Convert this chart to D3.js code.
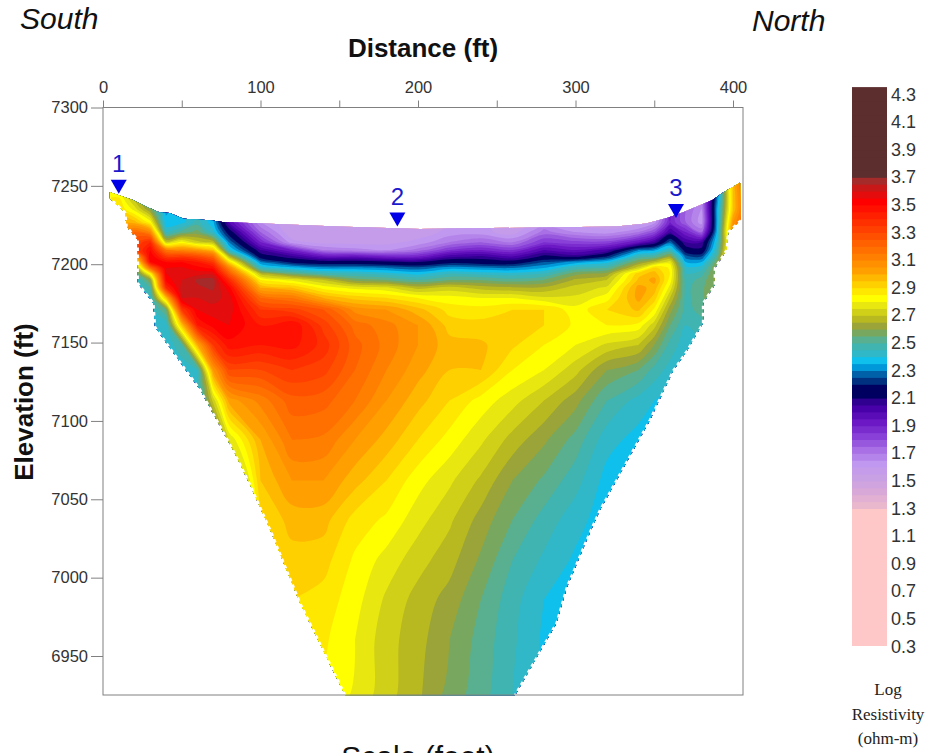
<!DOCTYPE html>
<html>
<head>
<meta charset="utf-8">
<title>Log resistivity section</title>
<script src="https://d3js.org/d3.v7.min.js"></script>
<style>
  html, body { margin: 0; padding: 0; background: #fff; overflow: hidden; }
  svg { display: block; font-family: "Liberation Sans", Arial, sans-serif; }
  .axis path, .axis line { stroke: #808080; stroke-width: 1; }
  .axis text { fill: #333; font-size: 16.5px; font-family: "Liberation Sans", Arial, sans-serif; }
</style>
</head>
<body>
<svg id="chart" width="925" height="753"></svg>
<script>
// grid nodes of the section
var distances = [0, 10, 20, 30, 40, 50, 60, 70, 80, 100, 120, 140, 160, 180, 200, 220, 240, 260, 280, 300, 320, 340, 350, 360, 370, 380, 390, 400, 410];
var elevations = [7254, 7244, 7235, 7227, 7220.5, 7214, 7209, 7205, 7201.4, 7197.6, 7194, 7190, 7185, 7178.5, 7171, 7161, 7148.5, 7132.5, 7113, 7088, 7062, 7037, 7011, 6986, 6960, 6925];

// one profile per distance, top to bottom, log10 resistivity
var logRes = [
  [2.82,2.82,2.9,2.95,3,3,3,3,2.9,2.7,2.5,2.4,2.4,2.4,2.4,2.4,2.4,2.4,2.4,2.4,2.4,2.4,2.4,2.4,2.4,2.4],
  [2.82,2.84,2.9,3,3.1,3.1,3.1,3,2.8,2.6,2.45,2.4,2.4,2.4,2.4,2.4,2.4,2.4,2.4,2.4,2.4,2.4,2.4,2.4,2.4,2.4],
  [2.62,2.65,2.78,2.97,3.2,3.3,3.3,2.95,2.72,2.55,2.47,2.4,2.4,2.4,2.4,2.4,2.4,2.4,2.4,2.4,2.4,2.4,2.4,2.4,2.4,2.4],
  [2.47,2.47,2.6,2.82,3.1,3.4,3.5,3.55,3.5,3.2,2.85,2.6,2.5,2.44,2.42,2.4,2.4,2.4,2.4,2.4,2.4,2.4,2.4,2.4,2.4,2.4],
  [2.36,2.34,2.34,2.36,2.44,2.72,3.15,3.35,3.5,3.55,3.55,3.52,3.4,2.95,2.55,2.42,2.4,2.4,2.4,2.4,2.4,2.4,2.4,2.4,2.4,2.4],
  [2.38,2.38,2.38,2.38,2.52,2.82,3.1,3.35,3.5,3.56,3.58,3.6,3.62,3.6,3.35,2.95,2.5,2.4,2.4,2.4,2.4,2.4,2.4,2.4,2.4,2.4],
  [2.47,2.47,2.47,2.47,2.57,2.72,3.05,3.3,3.45,3.52,3.58,3.66,3.64,3.6,3.55,3.45,3,2.45,2.4,2.4,2.4,2.4,2.4,2.4,2.4,2.4],
  [2.36,2.36,2.36,2.36,2.42,2.68,2.95,3.2,3.35,3.48,3.58,3.67,3.66,3.62,3.58,3.52,3.35,3.05,2.72,2.42,2.4,2.4,2.4,2.4,2.4,2.4],
  [2.05,2.05,2,2,2.15,2.3,2.42,2.68,2.9,3.12,3.25,3.4,3.52,3.58,3.58,3.55,3.48,3.3,3.02,2.75,2.5,2.4,2.4,2.4,2.4,2.4],
  [1.6,1.6,1.6,1.65,1.75,1.9,2.05,2.15,2.3,2.45,2.68,2.85,3,3.2,3.35,3.45,3.45,3.3,3.12,3,2.95,2.9,2.85,2.8,2.75,2.7],
  [1.55,1.55,1.55,1.55,1.55,1.62,1.9,2.06,2.18,2.37,2.55,2.78,2.95,3.15,3.32,3.5,3.47,3.35,3.23,3.15,3.05,2.97,2.93,2.9,2.88,2.86],
  [1.55,1.55,1.55,1.55,1.55,1.58,1.7,1.95,2.14,2.32,2.47,2.7,2.83,3,3.25,3.33,3.38,3.32,3.22,3.14,3.05,2.97,2.92,2.88,2.86,2.85],
  [1.55,1.55,1.55,1.55,1.55,1.58,1.67,1.95,2.14,2.32,2.45,2.58,2.78,2.93,3.08,3.18,3.22,3.2,3.15,3.05,2.97,2.88,2.84,2.82,2.8,2.79],
  [1.55,1.55,1.55,1.55,1.55,1.58,1.65,1.9,2.12,2.3,2.42,2.55,2.76,2.9,3.05,3.12,3.13,3.1,3.05,2.98,2.9,2.84,2.78,2.74,2.72,2.72],
  [1.55,1.55,1.55,1.55,1.56,1.62,1.72,1.9,2.1,2.27,2.38,2.5,2.68,2.85,2.97,3.05,3.05,3.02,2.97,2.9,2.82,2.77,2.72,2.68,2.67,2.66],
  [1.65,1.65,1.65,1.6,1.62,1.7,1.85,2.03,2.17,2.33,2.45,2.55,2.72,2.82,2.88,2.93,2.97,2.95,2.9,2.83,2.76,2.71,2.67,2.63,2.6,2.58],
  [1.68,1.68,1.68,1.62,1.62,1.75,1.9,2.06,2.15,2.31,2.43,2.55,2.68,2.8,2.87,2.92,2.96,2.95,2.83,2.76,2.69,2.63,2.59,2.55,2.53,2.52],
  [1.55,1.55,1.55,1.55,1.57,1.7,1.85,2,2.14,2.3,2.42,2.52,2.66,2.8,2.9,2.93,2.91,2.85,2.77,2.68,2.6,2.55,2.5,2.47,2.46,2.45],
  [1.7,1.7,1.7,1.65,1.72,1.85,2,2.12,2.25,2.35,2.45,2.55,2.66,2.76,2.9,2.9,2.85,2.8,2.7,2.61,2.54,2.48,2.44,2.4,2.39,2.38],
  [1.6,1.6,1.6,1.58,1.65,1.82,1.95,2.08,2.32,2.47,2.58,2.66,2.72,2.76,2.82,2.84,2.8,2.72,2.62,2.53,2.47,2.42,2.39,2.37,2.37,2.37],
  [1.6,1.6,1.6,1.55,1.62,1.82,2.02,2.2,2.38,2.5,2.62,2.7,2.76,2.83,2.9,2.85,2.74,2.6,2.5,2.42,2.38,2.37,2.37,2.37,2.37,2.37],
  [1.55,1.55,1.55,1.55,1.7,1.95,2.3,2.47,2.6,2.73,2.93,2.96,3.02,3.02,2.96,2.83,2.7,2.55,2.43,2.38,2.37,2.37,2.37,2.37,2.37,2.37],
  [1.6,1.6,1.6,1.62,1.8,2.05,2.33,2.5,2.68,2.92,2.97,3.02,2.98,2.93,2.84,2.72,2.6,2.48,2.4,2.38,2.37,2.37,2.37,2.37,2.37,2.37],
  [1.9,1.9,1.9,1.9,2.05,2.28,2.45,2.62,2.78,2.84,2.85,2.83,2.78,2.7,2.62,2.55,2.48,2.43,2.38,2.37,2.37,2.37,2.37,2.37,2.37,2.37],
  [1.75,1.75,1.75,1.75,1.9,2.05,2.15,2.27,2.35,2.42,2.45,2.47,2.48,2.48,2.48,2.45,2.42,2.4,2.38,2.37,2.37,2.37,2.37,2.37,2.37,2.37],
  [1.7,1.7,1.65,1.62,1.75,2.05,2.12,2.25,2.35,2.43,2.48,2.52,2.54,2.54,2.52,2.48,2.45,2.45,2.45,2.45,2.45,2.45,2.45,2.45,2.45,2.45],
  [2.35,2.3,2.35,2.35,2.37,2.42,2.47,2.52,2.58,2.62,2.62,2.62,2.6,2.6,2.6,2.6,2.6,2.6,2.6,2.6,2.6,2.6,2.6,2.6,2.6,2.6],
  [2.95,2.95,2.95,3.05,3.1,3,3,3,3,3,3,3,3,3,3,3,3,3,3,3,3,3,3,3,3,3],
  [3.3,3.3,3.3,3.3,3.3,3.3,3.3,3.3,3.3,3.3,3.3,3.3,3.3,3.3,3.3,3.3,3.3,3.3,3.3,3.3,3.3,3.3,3.3,3.3,3.3,3.3]
];

// outline of the surveyed section, [distance, elevation]
var outlineTop = [
  [4.4,7246],[19,7241],[28,7236.5],[36,7233],[42.5,7232.7],[51,7229],[68,7228],[76,7227],[101.6,7226],[148.6,7224],[201,7222.5],[326,7224],[345,7226],[358,7229.5],[368,7233],[387,7241],[394,7246],[404.5,7252]
];
var outlineRight = [
  [405,7228],[397,7220.5],[396,7209],[388.5,7197.5],[388.5,7187],[381,7175],[381,7162.5],[371,7145],[362,7132],[347,7100],[315.5,7043],[309,7028.5],[294.6,6994],[288,6971],[261.6,6925]
];
var outlineLeft = [
  [153.7,6925],[125,6984],[107,7028.5],[93,7060],[82.5,7081.5],[61.6,7120],[51,7134.5],[33,7160],[32,7175],[22,7188],[22,7215.5],[15,7224],[14,7233],[4.4,7242]
];

// marks on the ground line: distance, elevation of the tip
var markerNames = ["1", "2", "3"];
var markerDist = [10, 186.9, 363.8];
var markerElev = [7245, 7224, 7229.5];

var distTicks = [0, 50, 100, 150, 200, 250, 300, 350, 400];
var distLabels = [0, 100, 200, 300, 400];
var elevTicks = [7300, 7250, 7200, 7150, 7100, 7050, 7000, 6950];
var legendTicks = [4.3, 4.1, 3.9, 3.7, 3.5, 3.3, 3.1, 2.9, 2.7, 2.5, 2.3, 2.1, 1.9, 1.7, 1.5, 1.3, 1.1, 0.9, 0.7, 0.5, 0.3];

// colour ramp as printed on the legend
var rampValues = [1.25, 1.3, 1.4, 1.5, 1.6, 1.7, 1.8, 1.9, 2, 2.05, 2.1, 2.15, 2.2, 2.25, 2.3, 2.35, 2.4, 2.45, 2.5, 2.55, 2.6, 2.65, 2.7, 2.75, 2.8, 2.85, 2.9, 2.95, 3, 3.1, 3.2, 3.3, 3.4, 3.5, 3.6, 3.65, 3.7];
var rampColors = ["#ffc8c8", "#eab8cc", "#d8a8d8", "#c8a0e4", "#c098f0", "#a870e4", "#8840d8", "#6c18c4", "#4800a8", "#300090", "#000060", "#000060", "#003080", "#0060a8", "#0098d8", "#10c0ec", "#30b8c8", "#40b4b0", "#58b090", "#78a860", "#9aa438", "#b8b820", "#d0d018", "#e8e810", "#ffff00", "#ffe800", "#ffd000", "#ffb800", "#ffa000", "#ff8000", "#ff6000", "#ff4000", "#ff2000", "#ff0000", "#c81818", "#a52a2a", "#5c2e2e"];

var svg = d3.select("#chart");
var left = 103, right = 743, top_ = 107.5, bottom = 695;

var x = d3.scaleLinear().domain([0, 400]).range([103, 733]);
var y = d3.scaleLinear().domain([7300, 6950]).range([107.5, 656]);
var color = d3.scaleLinear().domain(rampValues).range(rampColors).clamp(true);

// contour levels, every 0.05 in log units
var levels = d3.range(5, 87).map(function (i) { return Math.round(i * 5) / 100; });

// d3.contours wants row-major values on an index grid, node i sits at i + 0.5
var nx = distances.length, ny = elevations.length;
var flat = [];
for (var r = 0; r < ny; r++) {
  for (var c = 0; c < nx; c++) flat.push(logRes[c][r]);
}
var gridX = d3.scaleLinear().domain(distances.map(function (d, i) { return i + 0.5; })).range(distances.map(function (d) { return x(d); }));
var gridY = d3.scaleLinear().domain(elevations.map(function (d, i) { return i + 0.5; })).range(elevations.map(function (d) { return y(d); }));

var contours = d3.contours().size([nx, ny]).smooth(true).thresholds(levels)(flat);

var ringLine = d3.line()
  .x(function (p) { return gridX(p[0]); })
  .y(function (p) { return gridY(p[1]); })
  .curve(d3.curveCatmullRomClosed.alpha(0.5));

function contourPath(geo) {
  var out = "";
  geo.coordinates.forEach(function (poly) {
    poly.forEach(function (ring) {
      out += ringLine(ring.slice(0, -1));
    });
  });
  return out;
}

var outlineLine = d3.line().x(function (d) { return x(d[0]); }).y(function (d) { return y(d[1]); });

svg.append("clipPath").attr("id", "section")
  .append("path")
  .attr("d", outlineLine(outlineTop.concat(outlineRight, outlineLeft)) + "Z");

var field = svg.append("g").attr("clip-path", "url(#section)");
field.selectAll("path")
  .data(contours.filter(function (g) { return g.coordinates.length > 0; }))
  .enter().append("path")
  .attr("d", contourPath)
  .attr("fill", function (g) { return color(g.value); })
  .attr("fill-rule", "evenodd");

// the gridded section has a toothed edge along both flanks
[outlineRight, outlineLeft].forEach(function (side) {
  svg.append("path")
    .attr("d", outlineLine(side))
    .attr("fill", "none")
    .attr("stroke", "#fff")
    .attr("stroke-width", 2.5)
    .attr("stroke-dasharray", "3.5 3.5");
});

// frame
svg.append("rect")
  .attr("x", left).attr("y", top_)
  .attr("width", right - left).attr("height", bottom - top_)
  .attr("fill", "none").attr("stroke", "#808080").attr("stroke-width", 1);

var xAxis = d3.axisTop(x).tickValues(distTicks).tickSize(7).tickPadding(8)
  .tickFormat(function (d) { return distLabels.indexOf(d) >= 0 ? d : ""; });
svg.append("g").attr("class", "axis").attr("transform", "translate(0," + top_ + ")").call(xAxis)
  .select(".domain").remove();

var yAxis = d3.axisLeft(y).tickValues(elevTicks).tickSize(12).tickPadding(3).tickFormat(d3.format("d"));
svg.append("g").attr("class", "axis").attr("transform", "translate(" + left + ",0)").call(yAxis)
  .select(".domain").remove();

// titles
svg.append("text").attr("x", 423).attr("y", 57).attr("text-anchor", "middle")
  .attr("font-size", 26).attr("font-weight", "bold").attr("fill", "#111").text("Distance (ft)");
svg.append("text").attr("transform", "translate(33,402) rotate(-90)").attr("text-anchor", "middle")
  .attr("font-size", 26).attr("font-weight", "bold").attr("fill", "#111").text("Elevation (ft)");
svg.append("text").attr("x", 20).attr("y", 29).attr("font-size", 30).attr("font-style", "italic").attr("fill", "#111").text("South");
svg.append("text").attr("x", 752).attr("y", 31).attr("font-size", 30).attr("font-style", "italic").attr("fill", "#111").text("North");
svg.append("text").attr("x", 418).attr("y", 767).attr("text-anchor", "middle")
  .attr("font-size", 30).attr("fill", "#111").text("Scale (feet)");

// markers
var marks = svg.append("g").selectAll("g").data(markerNames).enter().append("g")
  .attr("transform", function (d, i) { return "translate(" + x(markerDist[i]) + "," + y(markerElev[i]) + ")"; });
marks.append("path").attr("d", "M-8,-14L8,-14L0,0Z").attr("fill", "#0000e6");
marks.append("text").attr("y", -22).attr("text-anchor", "middle").attr("font-size", 24).attr("fill", "#1a1acc")
  .text(function (d) { return d; });

// legend
var legY = d3.scaleLinear().domain([0.3, 4.3]).range([646, 94]);
var legend = svg.append("g");
legend.selectAll("rect").data(d3.range(6, 87).map(function (i) { return Math.round(i * 5) / 100; }))
  .enter().append("rect")
  .attr("x", 852).attr("width", 35)
  .attr("y", function (d) { return legY(d + 0.05); })
  .attr("height", function (d) { return legY(d) - legY(d + 0.05) + (d > 0.3 ? 1 : 0); })
  .attr("fill", function (d) { return color(d); });
legend.selectAll("text").data(legendTicks).enter().append("text")
  .attr("x", 891).attr("y", function (d) { return legY(d) + 6.5; })
  .attr("font-size", 18).attr("fill", "#333")
  .text(function (d) { return d.toFixed(1); });

["Log", "Resistivity", "(ohm-m)"].forEach(function (t, i) {
  svg.append("text").attr("x", 888).attr("y", 695 + i * 24.5).attr("text-anchor", "middle")
    .attr("font-family", "'Liberation Serif', 'Times New Roman', serif")
    .attr("font-size", 17).attr("fill", "#222").text(t);
});
</script>
</body>
</html>
